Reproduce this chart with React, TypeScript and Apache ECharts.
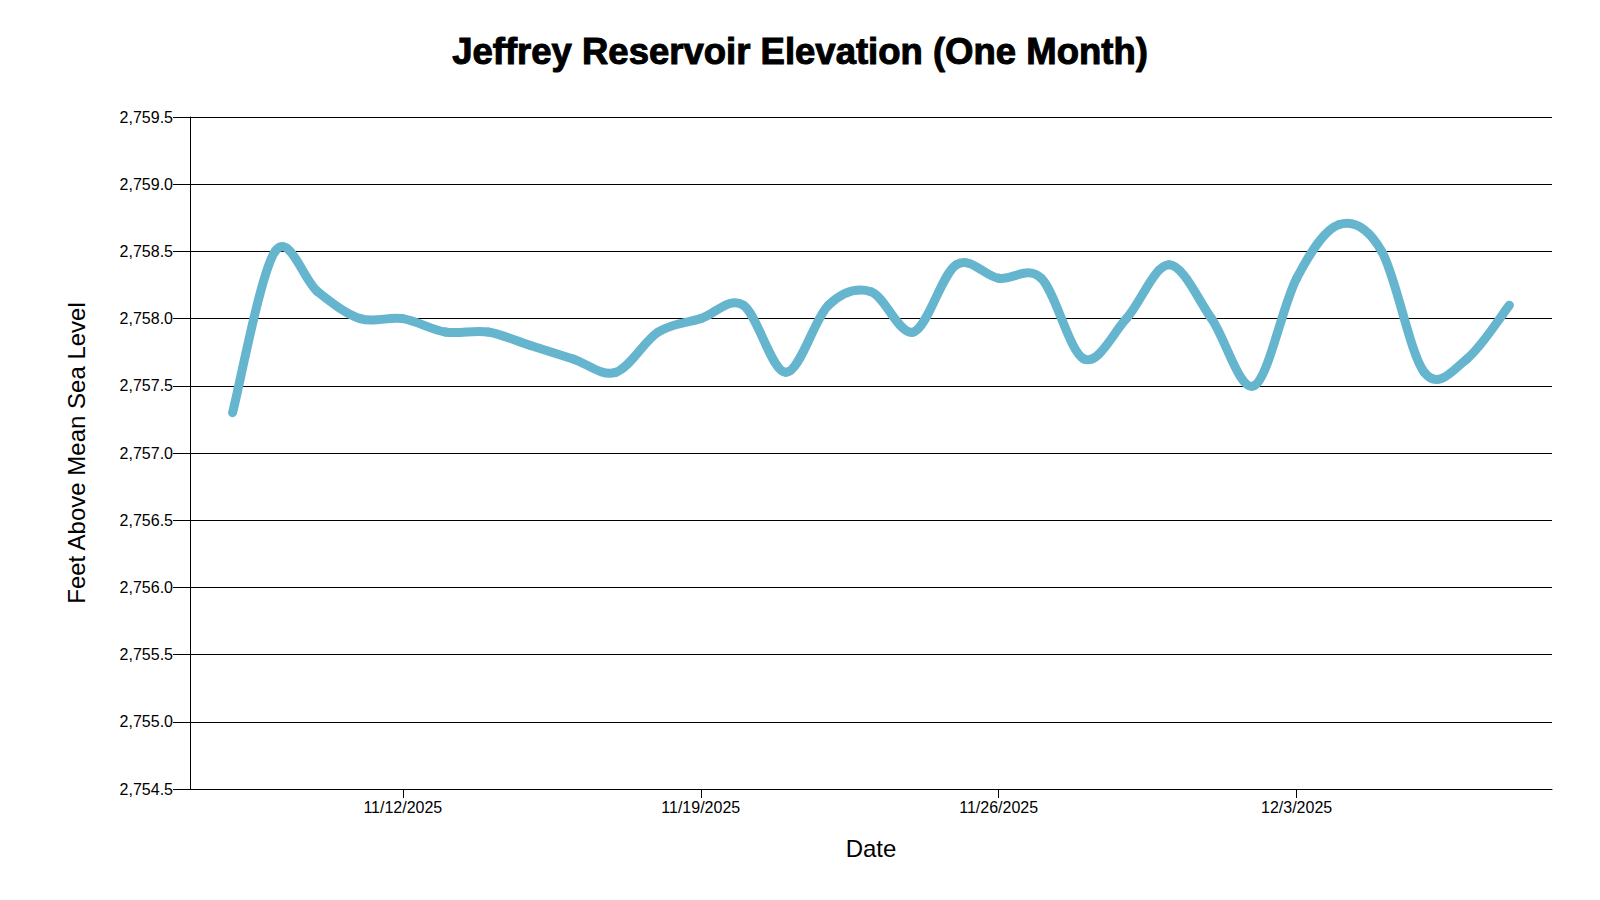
import React, { useEffect, useRef } from "react";
import * as echarts from "echarts";

const dates = [
  "2025-11-08", "2025-11-09", "2025-11-10", "2025-11-11", "2025-11-12",
  "2025-11-13", "2025-11-14", "2025-11-15", "2025-11-16", "2025-11-17",
  "2025-11-18", "2025-11-19", "2025-11-20", "2025-11-21", "2025-11-22",
  "2025-11-23", "2025-11-24", "2025-11-25", "2025-11-26", "2025-11-27",
  "2025-11-28", "2025-11-29", "2025-11-30", "2025-12-01", "2025-12-02",
  "2025-12-03", "2025-12-04", "2025-12-05", "2025-12-06", "2025-12-07",
  "2025-12-08",
];

const elevations = [
  2757.3, 2758.5, 2758.2, 2758.0, 2758.0,
  2757.9, 2757.9, 2757.8, 2757.7, 2757.6,
  2757.9, 2758.0, 2758.1, 2757.6, 2758.1,
  2758.2, 2757.9, 2758.4, 2758.3, 2758.3,
  2757.7, 2758.0, 2758.4, 2758.0, 2757.5,
  2758.3, 2758.7, 2758.5, 2757.6, 2757.7,
  2758.1,
];

const xTickDates = ["2025-11-12", "2025-11-19", "2025-11-26", "2025-12-03"];
const xRange = ["2025-11-07", "2025-12-09"];
const yMin = 2754.5;
const yMax = 2759.5;
const yStep = 0.5;

const FONT = "'Liberation Sans', Arial, Helvetica, sans-serif";

const toTs = (s: string) => Date.parse(s + "T00:00:00Z");
const fmtDate = (v: number) => {
  const d = new Date(v);
  return `${d.getUTCMonth() + 1}/${d.getUTCDate()}/${d.getUTCFullYear()}`;
};
const fmtElev = (v: number) =>
  v.toLocaleString("en-US", { minimumFractionDigits: 1, maximumFractionDigits: 1 });

export default function App() {
  const ref = useRef<HTMLDivElement>(null);

  useEffect(() => {
    if (!ref.current) return;
    const chart = echarts.init(ref.current, undefined, { renderer: "svg" });
    const tickTs = xTickDates.map(toTs);
    const seriesData = dates.map((d, i) => [toTs(d), elevations[i]]);
    const n = seriesData.length;

    // Catmull-Rom (cardinal, tension 0) segment between point i and i+1
    const renderItem = (params: any, api: any) => {
      const i = params.dataIndex;
      if (i >= n - 1) return null;
      const pt = (k: number) => {
        const kk = Math.max(0, Math.min(n - 1, k));
        return api.coord(seriesData[kk]);
      };
      const p0 = pt(i - 1);
      const p1 = pt(i);
      const p2 = pt(i + 1);
      const p3 = pt(i + 2);
      return {
        type: "bezierCurve",
        shape: {
          x1: p1[0],
          y1: p1[1],
          cpx1: p1[0] + (p2[0] - p0[0]) / 6,
          cpy1: p1[1] + (p2[1] - p0[1]) / 6,
          cpx2: p2[0] - (p3[0] - p1[0]) / 6,
          cpy2: p2[1] - (p3[1] - p1[1]) / 6,
          x2: p2[0],
          y2: p2[1],
        },
        style: {
          fill: "none",
          stroke: "#66b5ce",
          lineWidth: 9,
          lineCap: "round",
          lineJoin: "round",
        },
      };
    };

    chart.setOption({
      animation: false,
      backgroundColor: "#ffffff",
      title: {
        text: "Jeffrey Reservoir Elevation (One Month)",
        left: "center",
        top: 33,
        padding: 0,
        textStyle: {
          fontFamily: FONT,
          fontSize: 36.5,
          fontWeight: "bold",
          color: "#000",
          textBorderColor: "#000",
          textBorderWidth: 1,
        },
      },
      grid: { left: 190, right: 48, top: 117, bottom: 111, containLabel: false },
      xAxis: {
        type: "value",
        min: toTs(xRange[0]),
        max: toTs(xRange[1]),
        name: "Date",
        nameLocation: "middle",
        nameGap: 47,
        nameTextStyle: { fontFamily: FONT, fontSize: 24, color: "#000" },
        axisLine: { show: true, lineStyle: { color: "#000", width: 1 } },
        axisTick: {
          show: true,
          length: 9,
          customValues: tickTs,
          lineStyle: { color: "#000", width: 1 },
        },
        axisLabel: {
          customValues: tickTs,
          formatter: (v: number) => fmtDate(v),
          fontFamily: FONT,
          fontSize: 16,
          color: "#000",
          margin: 10,
        },
        splitLine: { show: false },
      },
      yAxis: {
        type: "value",
        min: yMin,
        max: yMax,
        interval: yStep,
        name: "Feet Above Mean Sea Level",
        nameLocation: "middle",
        nameGap: 102,
        nameTextStyle: { fontFamily: FONT, fontSize: 24, color: "#000" },
        axisLine: { show: true, lineStyle: { color: "#000", width: 1 } },
        axisTick: { show: true, length: 17, lineStyle: { color: "#000", width: 1 } },
        axisLabel: {
          formatter: (v: number) => fmtElev(v),
          fontFamily: FONT,
          fontSize: 16,
          color: "#000",
          margin: 17,
        },
        splitLine: { show: true, lineStyle: { color: "#000", width: 1 } },
      },
      series: [
        {
          type: "custom",
          data: seriesData,
          encode: { x: 0, y: 1 },
          renderItem,
          clip: false,
        },
      ],
    });
    return () => chart.dispose();
  }, []);

  return (
    <div
      ref={ref}
      style={{ position: "fixed", left: 0, top: 0, width: 1600, height: 900, background: "#fff" }}
    />
  );
}
